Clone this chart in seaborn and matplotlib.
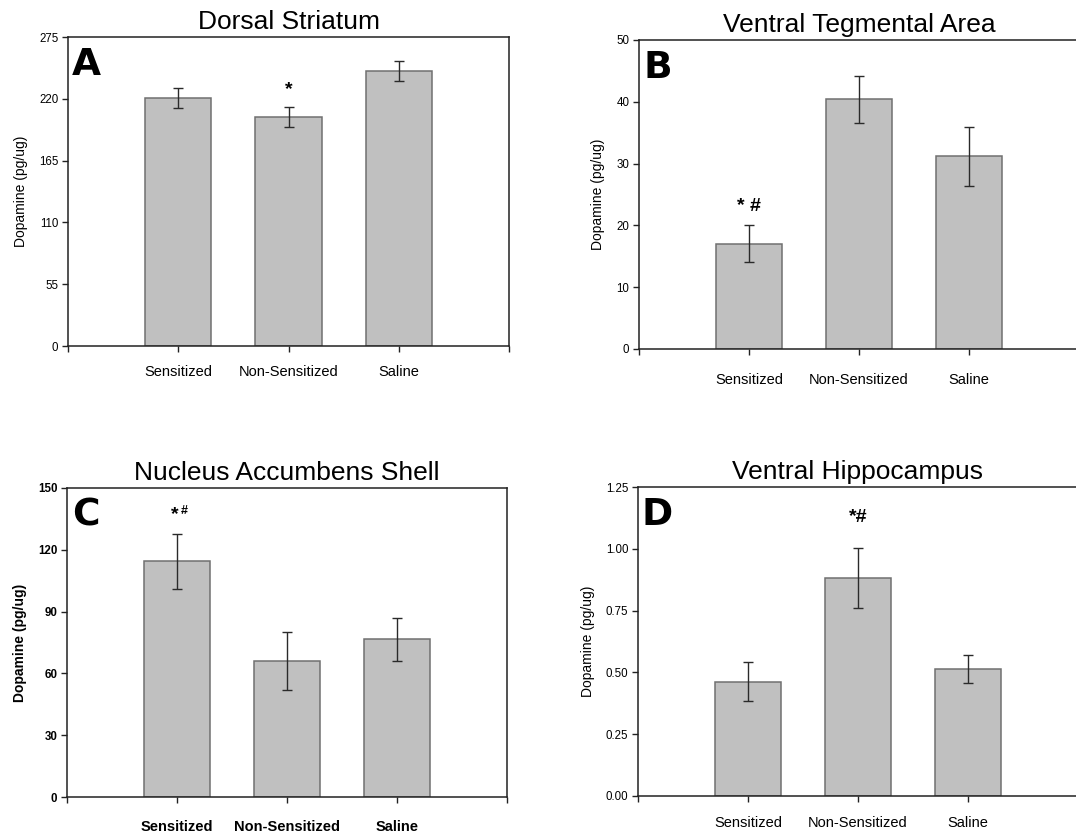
import numpy as np
import pandas as pd
import matplotlib
matplotlib.use("Agg")
import matplotlib.pyplot as plt
import seaborn as sns

# Group labels shared by all four brain regions
groups = ["Sensitized", "Non-Sensitized", "Saline"]

# Dopamine content (pg/ug), mean and SEM per group
striatum_mean = [221.0, 203.5, 244.5]
striatum_sem = [9.0, 9.0, 9.0]

vta_mean = [17.0, 40.4, 31.2]
vta_sem = [3.0, 3.85, 4.8]

nacc_mean = [114.5, 66.0, 76.5]
nacc_sem = [13.3, 14.2, 10.6]

hippo_mean = [0.463, 0.882, 0.514]
hippo_sem = [0.078, 0.12, 0.055]

titles = ["Dorsal Striatum", "Ventral Tegmental Area",
          "Nucleus Accumbens Shell", "Ventral Hippocampus"]
letters = ["A", "B", "C", "D"]
ylims = [275, 50, 150, 1.25]
yticks = [
    [0, 55, 110, 165, 220, 275],
    [0, 10, 20, 30, 40, 50],
    [0, 30, 60, 90, 120, 150],
    [0, 0.25, 0.50, 0.75, 1.00, 1.25],
]
# significance marks: (group index, y position, main text, superscript)
marks = [
    (1, 228.0, "*", ""),
    (0, 23.0, "* #", ""),
    (0, 137.0, "*", "#"),
    (1, 1.125, "*#", ""),
]

sns.set_style("ticks")
plt.rcParams["font.family"] = ["Liberation Sans", "DejaVu Sans"]
for key in ["text.color", "axes.labelcolor", "xtick.color", "ytick.color"]:
    plt.rcParams[key] = "black"

W, H = 1076, 835
fig = plt.figure(figsize=(W / 100, H / 100), dpi=100)

# axes boxes in pixels: left, top, width, height
boxes = [(68, 37, 441, 309), (639, 40, 440, 309),
         (67, 488, 440, 309), (638, 487, 440, 309)]
xpads = [10, 13, 12.5, 10.5]

means = [striatum_mean, vta_mean, nacc_mean, hippo_mean]
sems = [striatum_sem, vta_sem, nacc_sem, hippo_sem]

for i in range(4):
    l, t, w, h = boxes[i]
    ax = fig.add_axes([l / W, 1 - (t + h) / H, w / W, h / H])
    df = pd.DataFrame({"group": groups, "dopamine": means[i]})
    sns.barplot(data=df, x="group", y="dopamine", color="#c0c0c0",
                saturation=1, width=0.6, edgecolor="#707070", linewidth=1.1,
                errorbar=None, ax=ax)
    ax.errorbar(np.arange(3), means[i], yerr=sems[i], fmt="none",
                ecolor="#2a2a2a", elinewidth=1.0, capsize=3.5, capthick=1.0)

    bold = (i == 2)
    weight = "bold" if bold else "normal"

    ax.set_xlim(-1, 3)
    ax.set_ylim(0, ylims[i])
    ax.set_xticks([-1, 0, 1, 2, 3])
    ax.set_xticklabels([""] + groups + [""], fontsize=10.5, fontweight=weight)
    ax.set_yticks(yticks[i])
    if i == 3:
        ax.set_yticklabels([f"{v:.2f}" for v in yticks[i]])
    for lab in ax.get_yticklabels():
        lab.set_fontsize(8.3)
        lab.set_fontweight(weight)
    ax.tick_params(axis="x", direction="out", length=4, width=1,
                   color="#222222", labelcolor="black", pad=xpads[i])
    ax.tick_params(axis="y", direction="out", length=4, width=1,
                   color="#222222", labelcolor="black", pad=3)
    ax.set_xlabel("")
    ax.set_ylabel("Dopamine (pg/ug)", fontsize=10, fontweight=weight,
                  labelpad=8)
    for s in ax.spines.values():
        s.set_visible(True)
        s.set_color("#222222")
        s.set_linewidth(1.1)
    ax.set_title(titles[i], fontsize=19, pad=6)

    ax.annotate(letters[i], xy=(0, 1), xycoords="axes fraction",
                xytext=(13.5, -20), textcoords="offset points",
                ha="center", va="center", fontsize=27, fontweight="heavy",
                family="DejaVu Sans")

    gi, gy, txt, sup = marks[i]
    if sup:
        ax.annotate(txt, xy=(gi, gy), xytext=(-1.5, 0),
                    textcoords="offset points", ha="center", va="center",
                    fontsize=14, fontweight="bold")
        ax.annotate(sup, xy=(gi, gy), xytext=(5.3, 2.5),
                    textcoords="offset points", ha="center", va="center",
                    fontsize=9, fontweight="bold")
    else:
        ax.text(gi, gy, txt, ha="center", va="center", fontsize=14,
                fontweight="bold")

fig.savefig("out.png", dpi=100)
